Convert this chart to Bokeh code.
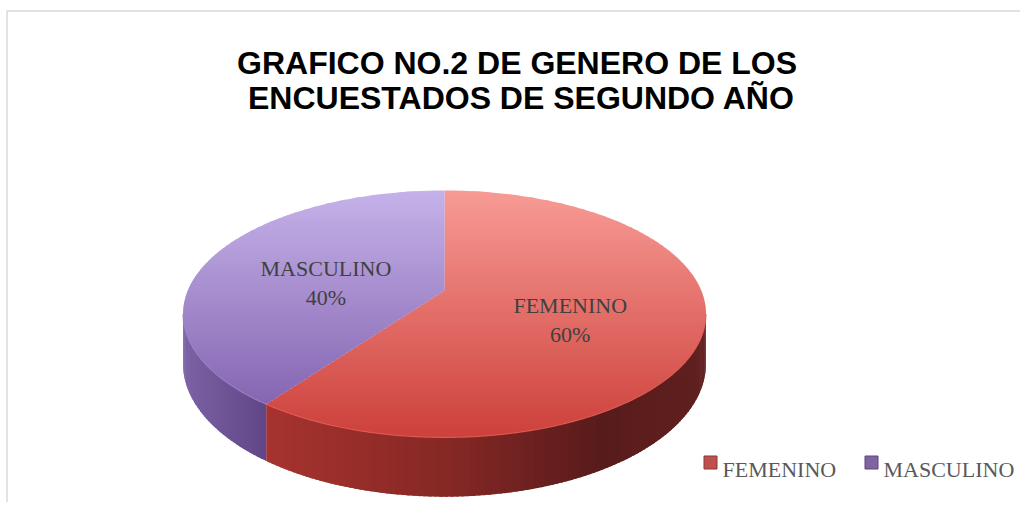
import numpy as np
from bokeh.plotting import figure
from bokeh.models import Range1d, ColumnDataSource
from bokeh.core.properties import value
from bokeh.embed import file_html
from bokeh.resources import INLINE

# ---------------- data ----------------
categories = ["FEMENINO", "MASCULINO"]
values = [60, 40]
title_lines = ["GRAFICO NO.2 DE  GENERO DE LOS", "ENCUESTADOS DE SEGUNDO AÑO"]

# ---------------- style ----------------
top_colors = [("#f89b95", "#cd403b"), ("#c6b2ea", "#7a5aa8")]
wall_stops = [
    [(260, "#a8332e"), (444, "#862825"), (600, "#581b1b"), (705, "#612020")],
    [(182, "#7d62a6"), (268, "#5f4584")],
]
rim_colors = ["#e35a54", "#9a80c4"]
legend_fill = ["#c0504d", "#8064a2"]
legend_line = ["#8c3836", "#5c4776"]

W, H_FIG = 1020, 502
CX, CY, A, B, K, DEPTH = 444.0, 290.0, 256.7, 119.0, 0.19, 48.0
Y_TOP, Y_BOT = 190.0, 437.0


def hex2rgb(h):
    h = h.lstrip("#")
    return np.array([int(h[i:i + 2], 16) for i in (0, 2, 4)], dtype=float)


def rgb2hex(c):
    c = np.clip(np.round(c), 0, 255).astype(int)
    return "#%02x%02x%02x" % tuple(c)


def lerp(c0, c1, t):
    t = min(max(t, 0.0), 1.0)
    return rgb2hex(hex2rgb(c0) * (1 - t) + hex2rgb(c1) * t)


def stops_color(stops, x):
    xs = [s[0] for s in stops]
    cols = np.array([hex2rgb(s[1]) for s in stops])
    return rgb2hex(np.array([np.interp(x, xs, cols[:, i]) for i in range(3)]))


def proj(theta_deg, r=1.0, depth=0.0):
    t = np.radians(theta_deg)
    u = r * np.sin(t)
    v = -r * np.cos(t)
    w = 1 - K * v
    return CX + A * u / w, CY + B * v / w + DEPTH * depth / w


def clip_half(pts, yc, keep_greater):
    out = []
    n = len(pts)
    for i in range(n):
        cur, prev = pts[i], pts[i - 1]
        cin = cur[1] >= yc if keep_greater else cur[1] <= yc
        pin = prev[1] >= yc if keep_greater else prev[1] <= yc
        if cin != pin:
            t = (yc - prev[1]) / (cur[1] - prev[1])
            out.append((prev[0] + t * (cur[0] - prev[0]), yc))
        if cin:
            out.append(cur)
    return out


total = float(sum(values))
bounds = np.concatenate([[0], np.cumsum(values)]) / total * 360.0

p = figure(width=W, height=H_FIG, x_range=Range1d(0, W), y_range=Range1d(H_FIG, 0),
           output_backend="svg", toolbar_location=None, x_axis_type=None, y_axis_type=None,
           min_border=0, outline_line_color=None, background_fill_color="white",
           border_fill_color="white")
p.grid.visible = False

# chart border
p.line([6.5, 6.5, 1030], [520, 10.5, 10.5], line_color="#d9d9d9", line_width=1.5)

# ---- walls (front visible arc) ----
vis0 = np.degrees(np.arccos(-K))
vis1 = 360 - vis0
wx, wy, wc = [], [], []
rx, ry, rc = [], [], []
for i in range(len(values)):
    a0, a1 = max(bounds[i], vis0), min(bounds[i + 1], vis1)
    if a1 <= a0:
        continue
    th = np.linspace(a0, a1, int(np.ceil(a1 - a0)) + 1)
    for j in range(len(th) - 1):
        tb = min(th[j + 1] + 0.7, a1)
        x0, y0 = proj(th[j]); x1, y1 = proj(tb)
        x2, y2 = proj(tb, depth=1); x3, y3 = proj(th[j], depth=1)
        wx.append([x0, x1, x2, x3]); wy.append([y0, y1, y2, y3])
        wc.append(stops_color(wall_stops[i], (x0 + x1) / 2))
    ex, ey = proj(th)
    rx.append(list(ex)); ry.append(list(ey)); rc.append(rim_colors[i])

p.patches("xs", "ys", source=ColumnDataSource(dict(xs=wx, ys=wy, c=wc)),
          fill_color="c", line_color=None)

# ---- top faces with vertical gradient ----
tx, ty, tc = [], [], []
for i in range(len(values)):
    th = np.linspace(bounds[i], bounds[i + 1], int(np.ceil(bounds[i + 1] - bounds[i])) + 1)
    ax, ay = proj(th)
    poly = [(CX, CY)] + list(zip(ax, ay))
    ys_edges = np.arange(Y_TOP - 2, Y_BOT + 4, 3.0)
    for j in range(len(ys_edges) - 1):
        pc = clip_half(poly, ys_edges[j], True)
        if not pc:
            continue
        pc = clip_half(pc, ys_edges[j + 1] + 1.0, False)
        if len(pc) < 3:
            continue
        tx.append([q[0] for q in pc]); ty.append([q[1] for q in pc])
        ym = (ys_edges[j] + ys_edges[j + 1]) / 2
        tc.append(lerp(top_colors[i][0], top_colors[i][1], (ym - Y_TOP) / (Y_BOT - Y_TOP)))

p.patches("xs", "ys", source=ColumnDataSource(dict(xs=tx, ys=ty, c=tc)),
          fill_color="c", line_color=None)

p.multi_line("xs", "ys", source=ColumnDataSource(dict(xs=rx, ys=ry, c=rc)),
             line_color="c", line_width=1.2, line_alpha=0.8)

# ---- data labels ----
for i, cat in enumerate(categories):
    mid = (bounds[i] + bounds[i + 1]) / 2
    lx, ly = proj(mid, r=0.5)
    pct = "%d%%" % round(values[i] / total * 100)
    p.text([lx], [ly], text=[cat], text_align="center", text_baseline="alphabetic",
           y_offset=-4, text_font=value("Liberation Serif"), text_font_size="22px",
           text_color="#404040")
    p.text([lx], [ly], text=[pct], text_align="center", text_baseline="alphabetic",
           y_offset=25, text_font=value("Liberation Serif"), text_font_size="22px",
           text_color="#404040")

# ---- title ----
for k, line in enumerate(title_lines):
    p.text([521], [62 + 35 * k], text=[line], text_align="center", text_baseline="alphabetic",
           text_font=value("Liberation Sans"), text_font_style="bold",
           text_font_size="32px", text_color="#000000")

# ---- legend ----
leg_x = [710, 871]
for i, cat in enumerate(categories):
    p.scatter([leg_x[i]], [462], marker="square", size=13,
              fill_color=legend_fill[i], line_color=legend_line[i], line_width=1)
    p.text([leg_x[i] + 12], [469], text=[cat], text_align="left", text_baseline="alphabetic",
           text_font=value("Liberation Serif"), text_font_size="22px", text_color="#595959")

open("out.html", "w").write(file_html(p, INLINE))
